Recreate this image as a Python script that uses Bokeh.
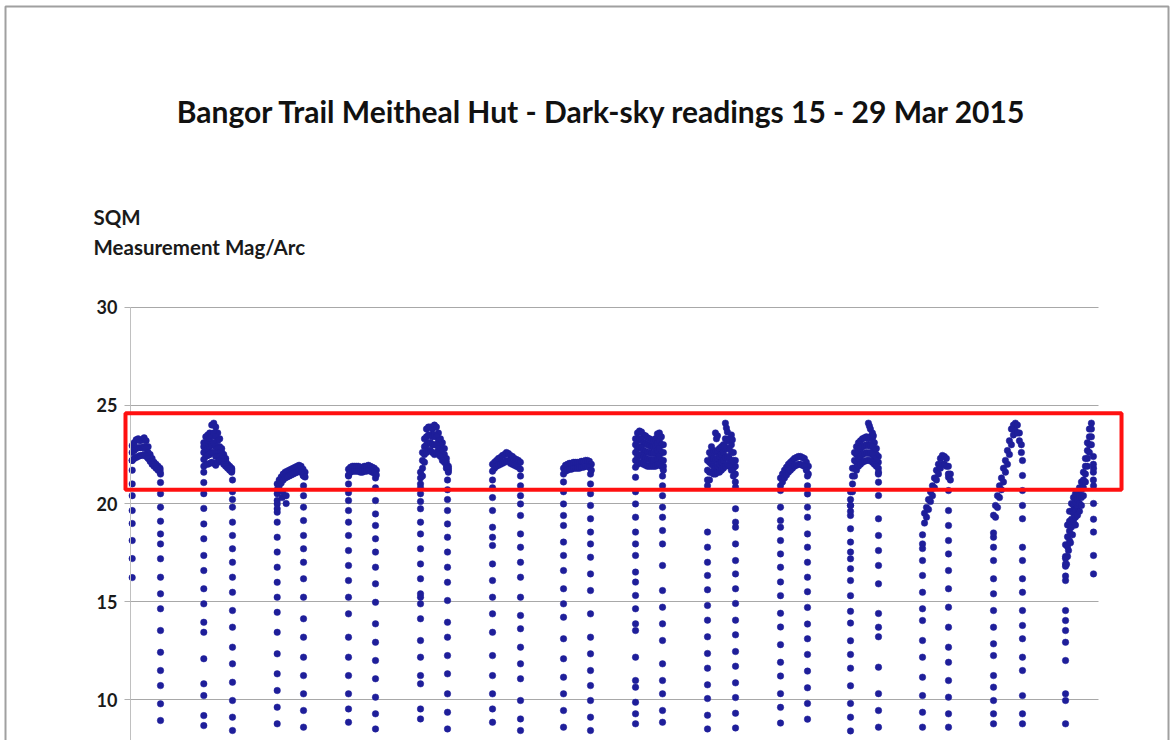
from bokeh.plotting import figure
from bokeh.models import ColumnDataSource, FixedTicker, BoxAnnotation, Label, Range1d
from bokeh.embed import file_html
from bokeh.resources import INLINE

TITLE = "Bangor Trail Meitheal Hut - Dark-sky readings 15 - 29 Mar 2015"
Y_LABEL_1 = "SQM"
Y_LABEL_2 = "Measurement Mag/Arc"
Y_TICKS = [10, 15, 20, 25, 30]
HIGHLIGHT_LOW, HIGHLIGHT_HIGH = 20.7, 24.6

# hours since 15 Mar 2015 00:00 of the first dark reading / dawn column of each night
dusk_hour = [19.90, 43.90, 68.51, 92.41, 116.55, 140.69, 164.49, 188.63, 212.76, 237.23, 260.70, 284.84, 308.64, 332.78]
dawn_hour = [29.39, 53.52, 77.33, 101.46, 125.60, 150.07, 173.54, 197.68, 222.15, 246.28, 270.08, 293.55, 318.35, 342.16]
# minutes after the first dark reading for the night-time (plateau) readings
plateau_minutes = [0, 40, 80, 120, 160, 200, 240, 280, 320, 360, 400, 440, 480, 520, 560]

night01_dusk = [22.2, 21.7, 21.0, 20.4, 19.64, 18.98, 18.11, 17.19, 16.22]
night01_dawn = [21.5, 21.07, 20.5, 19.81, 19.1, 18.45, 17.94, 17.18, 16.24, 15.39, 14.63, 13.52, 12.41, 11.48, 10.71, 9.78, 8.93]
night01_plateau = [
    [22.95, 23.1, 23.25, 23.3, 23.2, 23.25, 23.35, 23.2, 22.9, 22.5, 22.3, 22.1, 22.0, 21.9, 21.8],
    [22.6, 22.7, 22.8, 22.85, 22.85, 22.85, 22.9, 22.8, 22.6, 22.35, 22.15, 22.0, 21.9, 21.8, 21.7],
    [22.2, 22.3, 22.35, 22.4, 22.45, 22.45, 22.5, 22.4, 22.3, 22.15, 22.0, 21.9, 21.8, 21.7, 21.6],
]
night01_extra_min, night01_extra_mag = [], []

night02_dusk = [21.6, 21.07, 20.5, 19.75, 18.96, 18.2, 17.35, 16.58, 15.65, 14.88, 13.94, 13.43, 12.08, 10.8, 10.2, 9.18, 8.67]
night02_dawn = [21.2, 20.6, 20.2, 19.81, 19.05, 18.37, 17.69, 17.0, 16.24, 15.47, 14.54, 13.69, 12.67, 11.82, 10.88, 9.95, 9.1, 8.42]
night02_plateau = [
    [23.1, 23.4, 23.5, 23.6, 24.0, 24.1, 23.9, 23.6, 23.3, 22.8, 22.5, 22.3, 22.0, 21.9, 21.8],
    [22.9, 23.1, 23.2, 23.3, 23.5, 23.6, 23.4, 23.2, 22.9, 22.6, 22.35, 22.2, 21.95, 21.85, 21.75],
    [22.6, 22.75, 22.8, 22.9, 23.0, 23.1, 22.9, 22.8, 22.6, 22.45, 22.25, 22.1, 21.9, 21.8, 21.7],
    [22.25, 22.4, 22.45, 22.5, 22.6, 22.6, 22.4, 22.4, 22.4, 22.3, 22.1, 22.0, 21.85, 21.75, 21.65],
    [21.9, 22.0, 22.0, 22.05, 22.1, 22.05, 21.95, 22.1, 22.2, 22.15, 22.0, 21.9, 21.8, 21.7, 21.6],
]
night02_extra_min, night02_extra_mag = [], []

night03_dusk = [20.5, 20.15, 19.98, 19.73, 19.56, 19.05, 18.28, 17.52, 16.75, 15.98, 15.22, 14.45, 13.43, 12.33, 11.31, 10.46, 9.61, 8.76]
night03_dawn = [21.4, 20.9, 20.4, 19.81, 19.13, 18.37, 17.69, 17.0, 16.16, 15.22, 14.12, 13.18, 12.16, 11.22, 10.29, 9.44, 8.59]
night03_plateau = [
    [21.0, 21.2, 21.35, 21.5, 21.6, 21.65, 21.7, 21.75, 21.8, 21.85, 21.9, 21.95, 21.9, 21.75, 21.6],
    [20.7, 20.9, 21.05, 21.2, 21.3, 21.35, 21.4, 21.45, 21.5, 21.55, 21.6, 21.65, 21.6, 21.45, 21.35],
]
night03_extra_min, night03_extra_mag = [100, 110, 180, 180], [20.3, 20.6, 20.0, 20.4]

night04_dusk = [21.4, 21.0, 20.55, 20.15, 19.64, 19.05, 18.37, 17.6, 16.84, 16.07, 15.22, 14.37, 13.18, 12.16, 11.22, 10.29, 9.52, 8.84]
night04_dawn = [21.3, 20.8, 20.15, 19.47, 18.88, 18.2, 17.52, 16.75, 15.9, 14.96, 13.86, 12.92, 11.99, 11.06, 10.12, 9.27, 8.5]
night04_plateau = [
    [21.75, 21.85, 21.9, 21.9, 21.9, 21.9, 21.85, 21.85, 21.9, 21.9, 21.95, 21.9, 21.85, 21.8, 21.7],
    [21.45, 21.6, 21.65, 21.65, 21.65, 21.65, 21.6, 21.6, 21.65, 21.65, 21.7, 21.65, 21.6, 21.55, 21.45],
]
night04_extra_min, night04_extra_mag = [], []

night05_dusk = [20.5, 20.1, 19.73, 19.05, 18.45, 17.69, 16.92, 16.16, 15.39, 15.22, 14.88, 14.12, 13.01, 12.16, 11.22, 10.8, 9.52, 9.01]
night05_dawn = [21.2, 20.7, 20.2, 19.64, 18.96, 18.28, 17.52, 16.75, 15.98, 15.05, 13.94, 13.18, 12.24, 11.31, 10.29, 9.35, 8.5]
night05_plateau = [
    [21.6, 22.6, 23.3, 23.8, 23.9, 23.9, 23.8, 24.0, 23.9, 23.6, 23.3, 23.1, 22.8, 22.3, 21.9],
    [21.3, 22.2, 22.9, 23.4, 23.5, 23.5, 23.4, 23.5, 23.4, 23.2, 23.0, 22.8, 22.5, 22.1, 21.8],
    [21.0, 21.8, 22.5, 23.0, 23.1, 23.1, 23.0, 23.0, 23.0, 22.8, 22.7, 22.5, 22.3, 21.95, 21.7],
    [20.8, 21.4, 22.1, 22.6, 22.7, 22.7, 22.6, 22.5, 22.6, 22.5, 22.4, 22.2, 22.1, 21.8, 21.6],
]
night05_extra_min, night05_extra_mag = [], []

night06_dusk = [21.2, 20.8, 20.3, 19.64, 18.79, 18.28, 17.86, 16.92, 16.07, 15.22, 14.37, 13.43, 12.24, 11.22, 10.29, 9.52, 8.84]
night06_dawn = [21.4, 20.9, 20.4, 19.98, 19.39, 18.45, 17.77, 17.0, 16.24, 15.22, 14.29, 13.61, 12.67, 11.82, 11.06, 9.95, 9.01, 8.42]
night06_plateau = [
    [22.0, 22.1, 22.2, 22.3, 22.35, 22.45, 22.5, 22.6, 22.55, 22.45, 22.4, 22.3, 22.25, 22.2, 22.1],
    [21.65, 21.8, 21.9, 21.95, 22.0, 22.05, 22.1, 22.2, 22.15, 22.05, 22.0, 21.95, 21.9, 21.85, 21.75],
]
night06_extra_min, night06_extra_mag = [], []

night07_dusk = [21.1, 20.6, 19.98, 19.39, 18.88, 18.03, 17.35, 16.58, 15.65, 14.88, 14.2, 13.1, 12.08, 11.14, 10.29, 9.44, 8.59]
night07_dawn = [21.5, 21.0, 20.5, 19.9, 19.22, 18.54, 17.94, 17.26, 16.41, 15.56, 14.37, 13.18, 12.33, 11.48, 10.71, 9.95, 9.1, 8.42]
night07_plateau = [
    [21.8, 21.95, 22.0, 22.05, 22.05, 22.1, 22.1, 22.1, 22.1, 22.15, 22.15, 22.2, 22.2, 22.15, 22.0],
    [21.5, 21.65, 21.7, 21.75, 21.75, 21.8, 21.8, 21.8, 21.8, 21.85, 21.85, 21.9, 21.9, 21.85, 21.7],
]
night07_extra_min, night07_extra_mag = [], []

night08_dusk = [21.34, 20.6, 19.98, 19.3, 18.54, 17.94, 17.35, 16.5, 15.99, 15.31, 14.63, 13.86, 13.52, 12.16, 10.97, 10.63, 9.86, 9.27, 8.76]
night08_dawn = [21.4, 20.9, 20.4, 19.81, 19.3, 18.62, 17.94, 16.84, 15.56, 14.71, 13.86, 13.01, 11.82, 10.97, 10.29, 9.44, 8.84]
night08_plateau = [
    [23.3, 23.6, 23.7, 23.65, 23.5, 23.45, 23.35, 23.3, 23.25, 23.2, 23.3, 23.55, 23.6, 23.4, 23.0],
    [23.0, 23.2, 23.3, 23.25, 23.1, 23.05, 23.0, 22.95, 22.9, 22.9, 22.95, 23.1, 23.2, 23.0, 22.6],
    [22.6, 22.8, 22.9, 22.85, 22.7, 22.65, 22.6, 22.6, 22.55, 22.55, 22.6, 22.7, 22.8, 22.6, 22.2],
    [22.2, 22.4, 22.5, 22.45, 22.35, 22.3, 22.25, 22.25, 22.2, 22.2, 22.25, 22.3, 22.4, 22.2, 21.9],
    [21.85, 22.0, 22.1, 22.05, 22.0, 21.95, 21.9, 21.9, 21.9, 21.9, 21.9, 21.95, 22.0, 21.9, 21.7],
]
night08_extra_min, night08_extra_mag = [], []

night09_dusk = [18.54, 17.77, 17.0, 16.33, 15.6, 14.8, 14.05, 13.2, 12.35, 11.6, 10.75, 10.05, 9.2, 8.5]
night09_dawn = [20.83, 19.73, 19.05, 18.79, 17.94, 17.09, 16.41, 15.65, 14.9, 14.05, 13.3, 12.45, 11.7, 10.85, 10.1, 9.3, 8.55]
night09_plateau = [
    [22.2, 22.6, 22.9, 22.7, 22.6, 22.7, 22.8, 22.9, 23.0, 23.3, 23.2, 23.3, 23.0, 22.6, 22.2],
    [21.7, 22.1, 22.4, 22.3, 22.2, 22.3, 22.4, 22.5, 22.6, 22.8, 22.8, 22.8, 22.6, 22.2, 21.9],
    [21.2, 21.6, 22.0, 21.9, 21.8, 21.9, 22.0, 22.1, 22.2, 22.35, 22.4, 22.3, 22.1, 21.8, 21.5],
    [20.9, 21.2, 21.6, 21.5, 21.5, 21.6, 21.6, 21.7, 21.8, 21.9, 22.0, 21.9, 21.7, 21.4, 21.1],
]
night09_extra_min = [160, 180, 200, 340, 360, 380, 400, 480, 500]
night09_extra_mag = [23.6, 23.3, 23.45, 22.95, 24.1, 23.85, 23.65, 23.5, 23.25]

night10_dusk = [20.66, 19.81, 19.13, 18.79, 18.11, 17.43, 16.75, 16.0, 15.3, 14.4, 13.7, 12.8, 11.9, 11.2, 10.3, 9.6, 8.8]
night10_dawn = [21.4, 20.9, 20.49, 19.81, 19.3, 18.45, 17.77, 17.0, 16.24, 15.5, 14.7, 13.85, 13.1, 12.3, 11.45, 10.6, 9.8, 9.0]
night10_plateau = [
    [21.3, 21.5, 21.7, 21.85, 22.0, 22.1, 22.2, 22.3, 22.35, 22.4, 22.4, 22.35, 22.3, 22.1, 21.9],
    [20.9, 21.1, 21.3, 21.45, 21.6, 21.7, 21.8, 21.9, 21.95, 22.0, 22.0, 21.95, 21.9, 21.7, 21.5],
]
night10_extra_min, night10_extra_mag = [], []

night11_dusk = [19.9, 19.39, 18.71, 18.03, 17.52, 17.18, 16.67, 16.07, 15.3, 14.5, 13.9, 13.0, 12.3, 11.6, 10.7, 9.8, 9.1, 8.4]
night11_dawn = [21.6, 21.09, 20.41, 19.22, 18.37, 17.6, 16.84, 15.9, 14.39, 13.69, 13.2, 11.65, 10.3, 9.44, 8.59]
night11_plateau = [
    [20.6, 21.8, 22.6, 22.9, 23.1, 23.2, 23.3, 23.35, 23.4, 23.3, 23.4, 23.3, 23.1, 22.8, 22.4],
    [20.2, 21.4, 22.2, 22.5, 22.7, 22.8, 22.9, 22.95, 23.0, 22.95, 23.0, 22.9, 22.7, 22.5, 22.1],
    [19.9, 21.0, 21.8, 22.1, 22.3, 22.4, 22.5, 22.55, 22.6, 22.55, 22.6, 22.5, 22.3, 22.2, 21.8],
    [19.6, 20.6, 21.4, 21.7, 21.9, 22.0, 22.1, 22.15, 22.2, 22.2, 22.2, 22.1, 22.0, 21.9, 21.5],
]
night11_extra_min = [360, 380, 400, 440, 460]
night11_extra_mag = [24.1, 23.95, 23.8, 23.6, 23.45]

night12_dusk = [17.94, 17.09, 16.33, 15.47, 14.63, 14.03, 13.01, 12.16, 11.14, 10.2, 9.35, 8.59]
night12_dawn = [21.34, 20.66, 19.64, 18.88, 18.11, 17.43, 16.58, 15.65, 14.71, 13.69, 12.67, 11.9, 10.97, 10.12, 9.27, 8.59]
night12_plateau = [
    [18.4, 19.5, 19.8, 20.2, 20.6, 20.9, 21.3, 21.7, 22.0, 22.3, 22.45, 22.4, 22.3, 21.9, 21.5],
    [17.7, 19.0, 19.3, 19.7, 20.1, 20.4, 20.8, 21.2, 21.5, 21.8, 22.0, 22.0, 21.9, 21.5, 21.2],
]
night12_extra_min, night12_extra_mag = [], []

night13_dusk = [18.28, 17.77, 17.09, 16.16, 15.39, 14.54, 13.69, 12.84, 12.24, 11.22, 10.63, 9.95, 9.27, 8.76]
night13_dawn = [22.19, 21.43, 20.66, 19.9, 19.22, 17.77, 17.09, 16.16, 15.47, 14.54, 13.78, 13.1, 12.16, 11.48, 10.2, 9.27, 8.76]
night13_plateau = [
    [19.4, 19.9, 20.4, 20.9, 21.3, 21.8, 22.2, 22.7, 23.2, 23.8, 24.0, 24.1, 24.0, 23.6, 23.0],
    [18.5, 19.3, 19.8, 20.3, 20.7, 21.1, 21.6, 22.0, 22.5, 23.0, 23.5, 23.7, 23.6, 23.2, 22.6],
]
night13_extra_min, night13_extra_mag = [], []

night14_dusk = [16.92, 16.07, 14.54, 14.03, 13.52, 12.92, 11.99, 10.29, 9.95, 8.76]
night14_dawn = [21.8, 20.9, 20.0, 19.2, 18.54, 17.35, 16.41]
night14_plateau = [
    [17.9, 18.9, 19.6, 20.0, 20.3, 20.5, 20.6, 20.8, 21.1, 21.6, 22.3, 23.1, 23.8, 24.1, 22.4],
    [17.3, 18.3, 19.1, 19.6, 19.9, 20.1, 20.2, 20.4, 20.7, 21.2, 21.9, 22.7, 23.4, 23.8, 22.0],
    [16.8, 17.8, 18.6, 19.2, 19.5, 19.7, 19.8, 20.0, 20.3, 20.8, 21.5, 22.3, 23.0, 23.4, 21.6],
    [16.3, 17.3, 18.1, 18.8, 19.1, 19.3, 19.4, 19.6, 19.9, 20.4, 21.1, 21.9, 22.6, 23.0, 21.2],
]
night14_extra_min = [0, 20, 60, 100, 140, 200]
night14_extra_mag = [17.2, 16.9, 17.6, 18.0, 18.4, 18.9]

nights = [
    (night01_dusk, night01_dawn, night01_plateau, night01_extra_min, night01_extra_mag),
    (night02_dusk, night02_dawn, night02_plateau, night02_extra_min, night02_extra_mag),
    (night03_dusk, night03_dawn, night03_plateau, night03_extra_min, night03_extra_mag),
    (night04_dusk, night04_dawn, night04_plateau, night04_extra_min, night04_extra_mag),
    (night05_dusk, night05_dawn, night05_plateau, night05_extra_min, night05_extra_mag),
    (night06_dusk, night06_dawn, night06_plateau, night06_extra_min, night06_extra_mag),
    (night07_dusk, night07_dawn, night07_plateau, night07_extra_min, night07_extra_mag),
    (night08_dusk, night08_dawn, night08_plateau, night08_extra_min, night08_extra_mag),
    (night09_dusk, night09_dawn, night09_plateau, night09_extra_min, night09_extra_mag),
    (night10_dusk, night10_dawn, night10_plateau, night10_extra_min, night10_extra_mag),
    (night11_dusk, night11_dawn, night11_plateau, night11_extra_min, night11_extra_mag),
    (night12_dusk, night12_dawn, night12_plateau, night12_extra_min, night12_extra_mag),
    (night13_dusk, night13_dawn, night13_plateau, night13_extra_min, night13_extra_mag),
    (night14_dusk, night14_dawn, night14_plateau, night14_extra_min, night14_extra_mag),
]

xs, ys = [], []
for i, (dusk, dawn, plateau, ex_min, ex_mag) in enumerate(nights):
    for v in dusk:
        xs.append(dusk_hour[i]); ys.append(v)
    for v in dawn:
        xs.append(dawn_hour[i]); ys.append(v)
    for row in plateau:
        for m, v in zip(plateau_minutes, row):
            xs.append(dusk_hour[i] + m / 60.0); ys.append(v)
    for m, v in zip(ex_min, ex_mag):
        xs.append(dusk_hour[i] + m / 60.0); ys.append(v)

source = ColumnDataSource(data=dict(hour=xs, mag=ys))

FONT = "Lato"

# the frame covers the whole canvas; the y axis is pinned inside it
X_START, X_END = -24.25, 369.98
Y_START, Y_END = 7.91, 45.66
AXIS_X = 19.33
GRID_X_END = 343.84

p = figure(width=1176, height=740, output_backend="svg", toolbar_location=None,
           x_range=Range1d(X_START, X_END), y_range=Range1d(Y_START, Y_END),
           x_axis_type=None, min_border_left=0, min_border_right=0,
           min_border_top=0, min_border_bottom=0,
           background_fill_color="white", border_fill_color="white")
p.outline_line_color = None
ticker = FixedTicker(ticks=Y_TICKS)
p.yaxis.ticker = ticker
p.ygrid.ticker = ticker
p.yaxis.fixed_location = AXIS_X
p.yaxis.bounds = (Y_START, 30)
p.ygrid.cross_bounds = (AXIS_X, GRID_X_END)
p.ygrid.grid_line_color = "#a8a8a8"
p.ygrid.grid_line_width = 1
p.yaxis.minor_tick_line_color = None
p.yaxis.major_tick_in = 0
p.yaxis.major_tick_out = 6
p.yaxis.major_tick_line_color = "#b0b0b0"
p.yaxis.axis_line_color = "#c0c0c0"
p.yaxis.major_label_standoff = 7
p.yaxis.major_label_text_font = FONT
p.yaxis.major_label_text_font_style = "bold"
p.yaxis.major_label_text_font_size = "18px"
p.yaxis.major_label_text_color = "#1a1a1a"

p.scatter("hour", "mag", source=source, size=6.5, marker="circle",
          fill_color="#1e1e9a", line_color="#1e1e9a", line_width=0.5)

box = BoxAnnotation(left=17.65, right=351.55, bottom=HIGHLIGHT_LOW, top=HIGHLIGHT_HIGH,
                    fill_color=None, fill_alpha=0, line_color="#ff1010", line_alpha=1.0, line_width=4)
p.add_layout(box)

frame_border = BoxAnnotation(left=-22.57, right=367.30, bottom=6.88, top=45.35,
                             fill_color=None, fill_alpha=0, line_color="#a0a0a0", line_alpha=1.0, line_width=2)
p.add_layout(frame_border)

p.add_layout(Label(x=177.4, y=40.04, text=TITLE, text_align="center", text_baseline="alphabetic",
                   text_font=FONT, text_font_style="bold", text_font_size="30px", text_color="#111111"))
p.add_layout(Label(x=6.93, y=34.60, text=Y_LABEL_1, text_align="left", text_baseline="alphabetic",
                   text_font=FONT, text_font_style="bold", text_font_size="20.5px", text_color="#1a1a1a"))
p.add_layout(Label(x=6.93, y=33.07, text=Y_LABEL_2, text_align="left", text_baseline="alphabetic",
                   text_font=FONT, text_font_style="bold", text_font_size="20.5px", text_color="#1a1a1a"))

open("out.html", "w").write(file_html(p, INLINE))
